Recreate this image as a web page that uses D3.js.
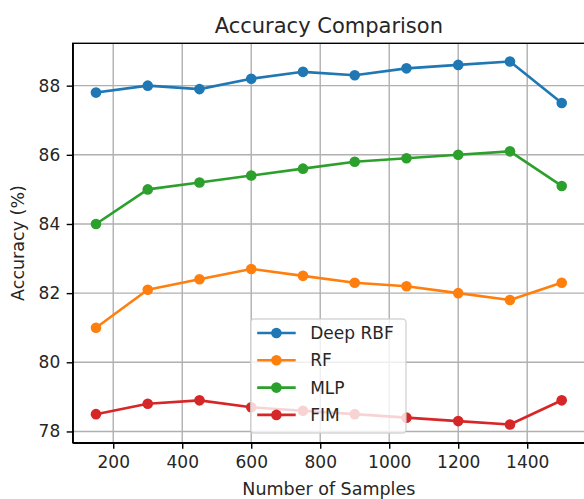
<!DOCTYPE html>
<html>
<head>
<meta charset="utf-8">
<script src="https://cdn.jsdelivr.net/npm/d3@7"></script>
<style>
  body { margin: 0; background: #fff; }
  svg { display: block; font-family: "DejaVu Sans", sans-serif; }
</style>
</head>
<body>
<svg width="584" height="499"></svg>
<script>
// data
const samples = [150, 300, 450, 600, 750, 900, 1050, 1200, 1350, 1500];
const deepRBF = [87.8, 88.0, 87.9, 88.2, 88.4, 88.3, 88.5, 88.6, 88.7, 87.5];
const rf      = [81.0, 82.1, 82.4, 82.7, 82.5, 82.3, 82.2, 82.0, 81.8, 82.3];
const mlp     = [84.0, 85.0, 85.2, 85.4, 85.6, 85.8, 85.9, 86.0, 86.1, 85.1];
const fim     = [78.5, 78.8, 78.9, 78.7, 78.6, 78.5, 78.4, 78.3, 78.2, 78.9];
const seriesNames = ['Deep RBF', 'RF', 'MLP', 'FIM'];
const xTicks = [200, 400, 600, 800, 1000, 1200, 1400];
const yTicks = [78, 80, 82, 84, 86, 88];

const colors = ['#1f77b4', '#ff7f0e', '#2ca02c', '#d62728'];
const series = [deepRBF, rf, mlp, fim].map((vals, i) => ({
    name: seriesNames[i],
    color: colors[i],
    values: vals.map((v, j) => ({ n: samples[j], acc: v }))
}));

const svg = d3.select('svg');
const margin = { top: 43.3, right: -1, bottom: 56.3, left: 72.7 };
const width = +svg.attr('width') - margin.left - margin.right;
const height = +svg.attr('height') - margin.top - margin.bottom;
const g = svg.append('g').attr('transform', `translate(${margin.left},${margin.top})`);

// matplotlib style 5% margins
const xPad = (d3.max(samples) - d3.min(samples)) * 0.05;
const allVals = [].concat(deepRBF, rf, mlp, fim);
const yPad = (d3.max(allVals) - d3.min(allVals)) * 0.05;

const x = d3.scaleLinear()
    .domain([d3.min(samples) - xPad, d3.max(samples) + xPad])
    .range([0, width]);
const y = d3.scaleLinear()
    .domain([d3.min(allVals) - yPad, d3.max(allVals) + yPad])
    .range([height, 0]);

// grid
g.append('g')
    .selectAll('line')
    .data(xTicks)
    .enter().append('line')
    .attr('x1', d => x(d)).attr('x2', d => x(d))
    .attr('y1', 0).attr('y2', height)
    .attr('stroke', '#b0b0b0').attr('stroke-width', 1.4);
g.append('g')
    .selectAll('line')
    .data(yTicks)
    .enter().append('line')
    .attr('x1', 0).attr('x2', width)
    .attr('y1', d => y(d)).attr('y2', d => y(d))
    .attr('stroke', '#b0b0b0').attr('stroke-width', 1.4);

// lines + markers
const line = d3.line()
    .x(d => x(d.n))
    .y(d => y(d.acc));

const sg = g.selectAll('.series')
    .data(series)
    .enter().append('g')
    .attr('class', 'series');

sg.append('path')
    .attr('d', d => line(d.values))
    .attr('fill', 'none')
    .attr('stroke', d => d.color)
    .attr('stroke-width', 2.6)
    .attr('stroke-linejoin', 'round')
    .attr('stroke-linecap', 'square');

sg.selectAll('circle')
    .data(d => d.values.map(v => Object.assign({ color: d.color }, v)))
    .enter().append('circle')
    .attr('cx', d => x(d.n))
    .attr('cy', d => y(d.acc))
    .attr('r', 5.3)
    .attr('fill', d => d.color);

// axes
const xAxis = g.append('g')
    .attr('transform', `translate(0,${height})`)
    .call(d3.axisBottom(x).tickValues(xTicks).tickFormat(d3.format('d'))
        .tickSize(6).tickSizeOuter(0).tickPadding(7));
const yAxis = g.append('g')
    .call(d3.axisLeft(y).tickValues(yTicks).tickFormat(d3.format('d'))
        .tickSize(6).tickSizeOuter(0).tickPadding(6.5));

[xAxis, yAxis].forEach(ax => {
    ax.attr('font-family', '"DejaVu Sans", sans-serif').attr('font-size', 17);
    ax.select('.domain').attr('stroke', '#000').attr('stroke-width', 1.4);
    ax.selectAll('.tick line').attr('stroke', '#000').attr('stroke-width', 1.4);
    ax.selectAll('.tick text').attr('fill', '#262626');
});

// top + right spines
g.append('rect')
    .attr('width', width).attr('height', height)
    .attr('fill', 'none')
    .attr('stroke', '#000').attr('stroke-width', 1.4);

// labels
svg.append('text')
    .attr('x', margin.left + width / 2)
    .attr('y', 32.5)
    .attr('text-anchor', 'middle')
    .attr('font-size', 21)
    .attr('fill', '#262626')
    .text('Accuracy Comparison');

svg.append('text')
    .attr('x', margin.left + width / 2)
    .attr('y', 495)
    .attr('text-anchor', 'middle')
    .attr('font-size', 17.5)
    .attr('fill', '#262626')
    .text('Number of Samples');

svg.append('text')
    .attr('transform', `translate(23.5,${margin.top + height / 2}) rotate(-90)`)
    .attr('text-anchor', 'middle')
    .attr('font-size', 17.5)
    .attr('fill', '#262626')
    .text('Accuracy (%)');

// legend
const legend = svg.append('g').attr('transform', 'translate(250.7,319)');
legend.append('rect')
    .attr('width', 155.3).attr('height', 114)
    .attr('rx', 3.5)
    .attr('fill', '#fff').attr('fill-opacity', 0.8)
    .attr('stroke', '#cccccc').attr('stroke-opacity', 0.8).attr('stroke-width', 1.4);

const item = legend.selectAll('.item')
    .data(series)
    .enter().append('g')
    .attr('class', 'item')
    .attr('transform', (d, i) => `translate(0,${14 + i * 27.3})`);
item.append('line')
    .attr('x1', 6.5).attr('x2', 45)
    .attr('stroke', d => d.color).attr('stroke-width', 2.6);
item.append('circle')
    .attr('cx', 25.7).attr('r', 5.3)
    .attr('fill', d => d.color);
item.append('text')
    .attr('x', 59.5)
    .attr('dy', '0.36em')
    .attr('font-size', 17)
    .attr('fill', '#262626')
    .text(d => d.name);
</script>
</body>
</html>
